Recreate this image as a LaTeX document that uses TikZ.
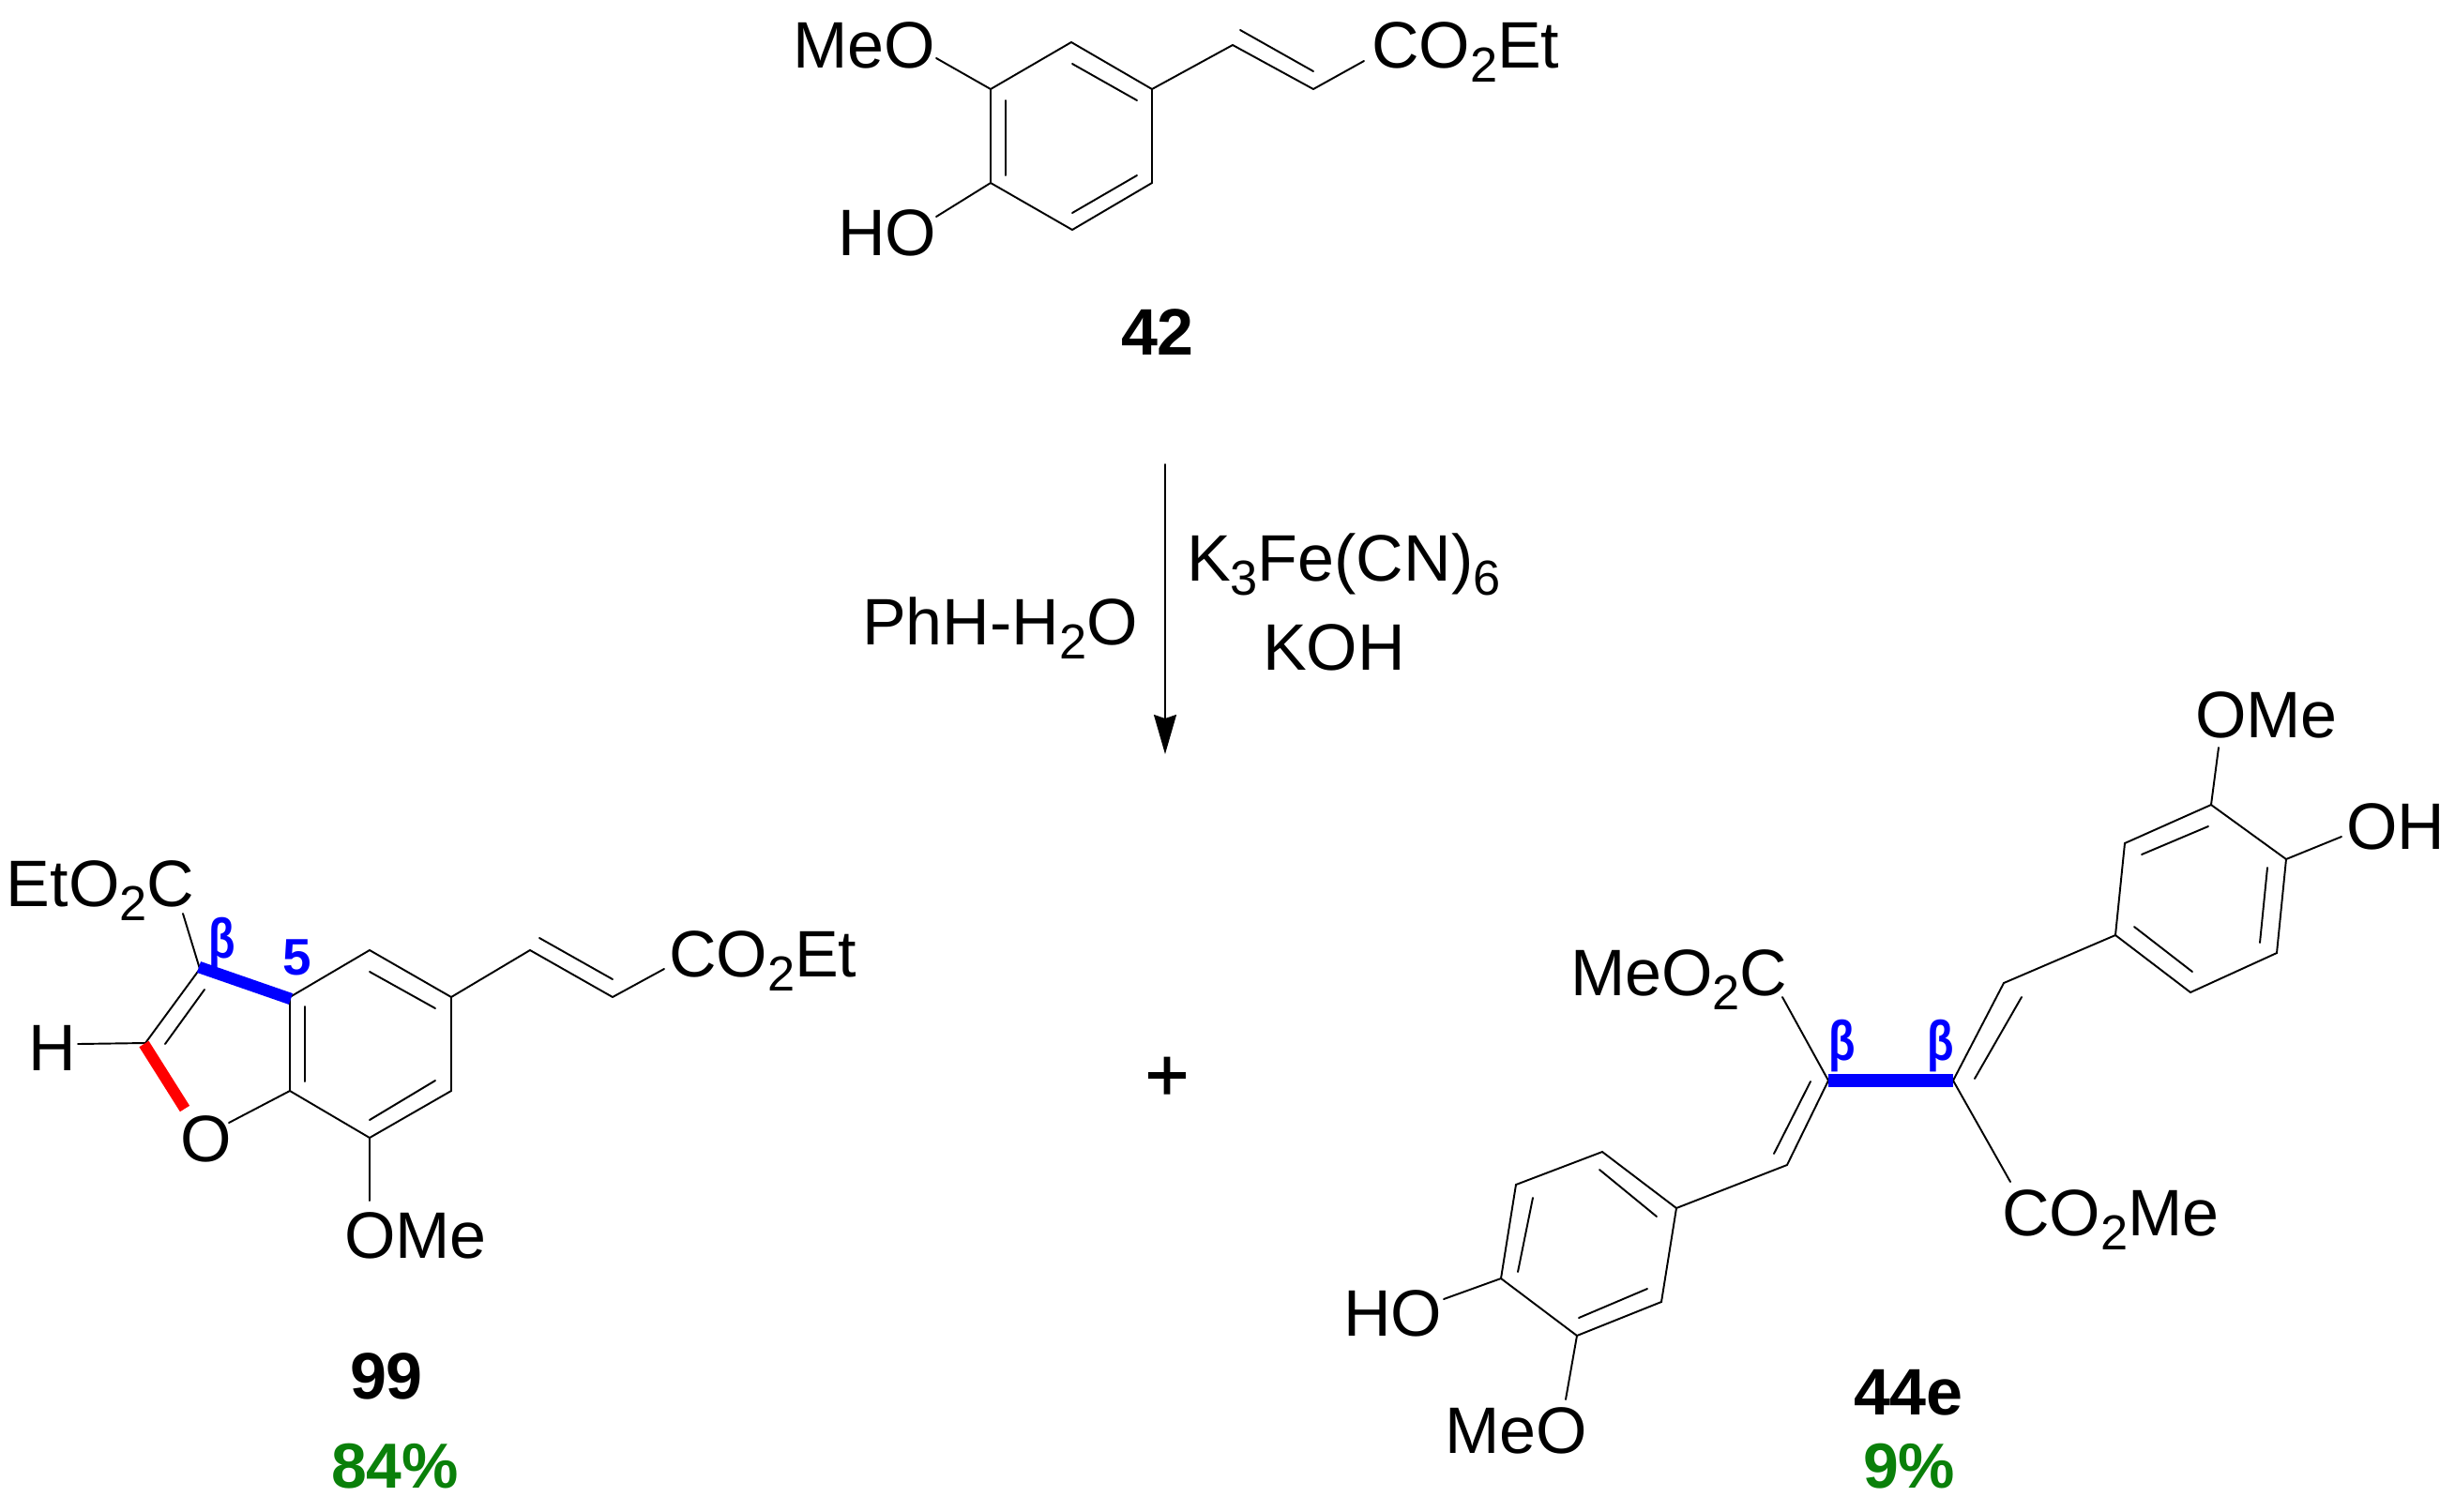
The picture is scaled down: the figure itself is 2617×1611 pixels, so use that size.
\documentclass[tikz,border=0pt]{standalone}
\usepackage{fontspec}
\usepackage{xcolor}
\setmainfont{Liberation Sans}
\newfontface\plusface[FakeBold=1.5]{Liberation Sans}
\usetikzlibrary{arrows.meta}
\definecolor{yieldgreen}{HTML}{0A800A}
\newcommand{\chemsub}[1]{\raisebox{-0.15cm}{\fontsize{14.9}{16}\selectfont #1}}
\newcommand{\betasym}{\scalebox{0.78}[1]{β}}
\tikzset{
  bond/.style={line width=0.55pt,line cap=round,line join=miter},
  bluebond/.style={line width=0.125cm,blue},
  blueflat/.style={line width=0.145cm,blue},
  redbond/.style={line width=0.12cm,red},
  lab/.style={inner sep=0pt,outer sep=0pt,anchor=base west,font=\fontsize{19.92}{24}\selectfont},
  cmpd/.style={lab,font=\fontsize{19.92}{24}\selectfont\bfseries},
  yieldlab/.style={cmpd,text=yieldgreen,font=\fontsize{19.3}{24}\selectfont\bfseries},
  pluslab/.style={inner sep=0pt,font=\plusface\fontsize{22.5}{28}\selectfont},
  betalab/.style={inner sep=0pt,anchor=base west,text=blue,font=\fontsize{17}{20}\selectfont\bfseries},
  fivelab/.style={inner sep=0pt,anchor=base west,text=blue,font=\fontsize{15.6}{18}\selectfont\bfseries}
}
\begin{document}
\begin{tikzpicture}[x=0.01cm,y=-0.01cm]
    \useasboundingbox (0,0) rectangle (2617,1611);

    % Starting ester 42
    \coordinate (s1) at (1142,45); \coordinate (s2) at (1228,95); \coordinate (s3) at (1228,195);
    \coordinate (s4) at (1143,245); \coordinate (s5) at (1056,195); \coordinate (s6) at (1056,95);
    \coordinate (s7) at (1314,48); \coordinate (s8) at (1400,95);
    \coordinate (si1) at (1143,68); \coordinate (si2) at (1212,107);
    \coordinate (si3) at (1212,187); \coordinate (si4) at (1143,227);
    \coordinate (si5) at (1072,107); \coordinate (si6) at (1072,187);
    \coordinate (si7) at (1322,32); \coordinate (si8) at (1400,76);
    \coordinate (smeo) at (998,62); \coordinate (sho) at (998,231); \coordinate (sest) at (1454,65);
    \draw[bond] (s1) -- (s2) -- (s3) -- (s4) -- (s5) -- (s6) -- cycle;
    \draw[bond] (si1) -- (si2);
    \draw[bond] (si3) -- (si4);
    \draw[bond] (si5) -- (si6);
    \draw[bond] (s2) -- (s7) -- (s8) -- (sest);
    \draw[bond] (si7) -- (si8);
    \draw[bond] (s6) -- (smeo);
    \draw[bond] (s5) -- (sho);
    \node[lab] (meo42) at (845,72) {MeO};
    \node[lab] (ho42) at (893,272) {HO};
    \node[lab] (est42) at (1462,72) {CO\chemsub{2}Et};
    \node[cmpd] (n42) at (1195,378) {42};

    % Reaction arrow
    \coordinate (arrtop) at (1242,495);
    \coordinate (arrtip) at (1242,804);
    \draw[bond,-{Stealth[length=0.42cm,width=0.24cm,inset=0.04cm]}] (arrtop) -- (arrtip);
    \node[lab] (solv) at (919,687) {PhH-H\chemsub{2}O};
    \node[lab] (oxid) at (1265,619) {K\chemsub{3}Fe(CN)\chemsub{6}};
    \node[lab] (base) at (1346,714) {KOH};
    \node[pluslab] (plus) at (1244,1150) {+};

    % Benzofuran 99
    \coordinate (b1) at (394,1013); \coordinate (b2) at (481,1063); \coordinate (b3) at (481,1163);
    \coordinate (b4) at (394,1213); \coordinate (b5) at (309,1163); \coordinate (b6) at (309,1063);
    \coordinate (b7) at (213,1033); \coordinate (b8) at (155,1112);
    \coordinate (b9) at (565,1013); \coordinate (b10) at (653,1063);
    \coordinate (bi1) at (394,1036); \coordinate (bi2) at (464,1075);
    \coordinate (bi3) at (464,1152); \coordinate (bi4) at (394,1194);
    \coordinate (bi5) at (325,1073); \coordinate (bi6) at (325,1153);
    \coordinate (bi7) at (218,1055); \coordinate (bi8) at (176,1113);
    \coordinate (bi9) at (575,1000); \coordinate (bi10) at (653,1044);
    \coordinate (bt1) at (212,1031); \coordinate (bt2) at (310,1065);
    \coordinate (br1) at (153.5,1113); \coordinate (br2) at (197,1182);
    \coordinate (bfo) at (244,1197); \coordinate (bfh) at (83,1113);
    \coordinate (bfest) at (195,974); \coordinate (bfome) at (394,1280); \coordinate (bfco) at (708,1033);
    \draw[bond] (b6) -- (b1) -- (b2) -- (b3) -- (b4) -- (b5) -- cycle;
    \draw[bond] (bi1) -- (bi2);
    \draw[bond] (bi3) -- (bi4);
    \draw[bond] (bi5) -- (bi6);
    \draw[bond] (b7) -- (b8) -- (bfh);
    \draw[bond] (bi7) -- (bi8);
    \draw[bond] (b7) -- (bfest);
    \draw[bond] (b5) -- (bfo);
    \draw[bond] (b4) -- (bfome);
    \draw[bond] (b2) -- (b9) -- (b10) -- (bfco);
    \draw[bond] (bi9) -- (bi10);
    \draw[bluebond] (bt1) -- (bt2);
    \draw[redbond] (br1) -- (br2);
    \node[lab] (est99) at (7,966) {EtO\chemsub{2}C};
    \node[lab] (h99) at (31,1141) {H};
    \node[lab] (o99) at (192,1238) {O};
    \node[lab] (ome99) at (367,1341) {OMe};
    \node[lab] (co99) at (713,1041) {CO\chemsub{2}Et};
    \node[betalab] (beta99) at (222,1021) {\betasym};
    \node[fivelab] (five99) at (301,1039) {5};
    \node[cmpd] (n99) at (373,1491) {99};
    \node[yieldlab] (y99) at (353,1586) {84\%};

    % Dimer 44e
    \coordinate (d1) at (1949,1152); \coordinate (d2) at (2082,1152);
    \coordinate (d3) at (2136,1048); \coordinate (d4) at (1905,1242);
    \coordinate (r1) at (2255,997); \coordinate (r2) at (2265,899); \coordinate (r3) at (2357,858);
    \coordinate (r4) at (2437,916); \coordinate (r5) at (2427,1016); \coordinate (r6) at (2335,1058);
    \coordinate (l1) at (1787,1288); \coordinate (l2) at (1708,1228); \coordinate (l3) at (1616,1263);
    \coordinate (l4) at (1600,1363); \coordinate (l5) at (1681,1424); \coordinate (l6) at (1771,1388);
    \coordinate (ri1) at (2354,881); \coordinate (ri2) at (2283,911);
    \coordinate (ri3) at (2417,925); \coordinate (ri4) at (2409,1005);
    \coordinate (ri5) at (2337,1036); \coordinate (ri6) at (2275,988);
    \coordinate (li1) at (1705,1247); \coordinate (li2) at (1766,1297);
    \coordinate (li3) at (1634,1277); \coordinate (li4) at (1618,1356);
    \coordinate (li5) at (1683,1405); \coordinate (li6) at (1756,1374);
    \coordinate (di1) at (2155,1063); \coordinate (di2) at (2105,1150);
    \coordinate (di3) at (1930,1153); \coordinate (di4) at (1891,1230);
    \coordinate (fome) at (2365,797); \coordinate (foh) at (2496,892);
    \coordinate (fho) at (1539,1385); \coordinate (fmeo) at (1669,1492);
    \coordinate (fest) at (1900,1063); \coordinate (fco) at (2143,1260);
    \draw[bond] (r1) -- (r2) -- (r3) -- (r4) -- (r5) -- (r6) -- cycle;
    \draw[bond] (ri1) -- (ri2);
    \draw[bond] (ri3) -- (ri4);
    \draw[bond] (ri5) -- (ri6);
    \draw[bond] (l1) -- (l2) -- (l3) -- (l4) -- (l5) -- (l6) -- cycle;
    \draw[bond] (li1) -- (li2);
    \draw[bond] (li3) -- (li4);
    \draw[bond] (li5) -- (li6);
    \draw[bond] (r1) -- (d3) -- (d2) -- (fco);
    \draw[bond] (di1) -- (di2);
    \draw[bond] (l1) -- (d4) -- (d1) -- (fest);
    \draw[bond] (di3) -- (di4);
    \draw[bond] (r3) -- (fome);
    \draw[bond] (r4) -- (foh);
    \draw[bond] (l4) -- (fho);
    \draw[bond] (l5) -- (fmeo);
    \draw[blueflat] (d1) -- (d2);
    \node[lab] (ome44) at (2340,786) {OMe};
    \node[lab] (oh44) at (2501,905) {OH};
    \node[lab] (est44) at (1674,1061) {MeO\chemsub{2}C};
    \node[lab] (co44) at (2134,1317) {CO\chemsub{2}Me};
    \node[lab] (ho44) at (1432,1424) {HO};
    \node[lab] (meo44) at (1540,1549) {MeO};
    \node[betalab] (betal) at (1949,1130) {\betasym};
    \node[betalab] (betar) at (2054,1130) {\betasym};
    \node[cmpd] (n44) at (1976,1508) {44e};
    \node[yieldlab] (y44) at (1986,1586) {9\%};
\end{tikzpicture}
\end{document}
